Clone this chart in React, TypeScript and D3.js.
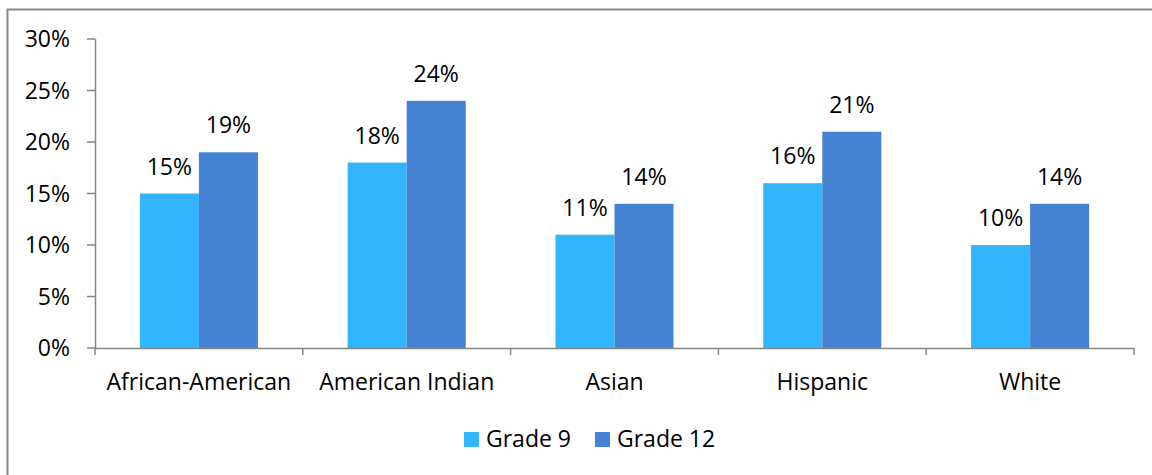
import React from "react";
import * as d3 from "d3";

const categories = ["African-American", "American Indian", "Asian", "Hispanic", "White"];
const seriesNames = ["Grade 9", "Grade 12"];
const grade9 = [15, 18, 11, 16, 10];
const grade12 = [19, 24, 14, 21, 14];
const yTicks = [0, 5, 10, 15, 20, 25, 30];

const colors = ["#33B5FE", "#4683D3"];
const FONT = "'Open Sans', 'Liberation Sans', sans-serif";
const FS = 23;

export default function App() {
  const W = 1152, H = 475;
  const x0 = 95, x1 = 1134, yTop = 39, yBot = 348;
  const x = d3.scaleBand<string>().domain(categories).range([x0, x1]).paddingInner(0).paddingOuter(0);
  const y = d3.scaleLinear().domain([0, 30]).range([yBot, yTop]);
  const inner = d3.scaleBand<string>().domain(seriesNames).range([0, x.bandwidth()]).paddingOuter(0.76).paddingInner(0);
  const series = [grade9, grade12];
  const boundaries = d3.range(categories.length + 1).map(i => x0 + i * x.bandwidth());

  return (
    <svg width={W} height={H} style={{ position: "absolute", left: 0, top: 0, background: "#fff" }} fontFamily={FONT}>
      <rect x={7.5} y={9.5} width={1200} height={600} fill="none" stroke="#878787" strokeWidth={2} />
      {categories.map((c, i) => (
        <g key={c}>
          {series.map((s, j) => (
            <rect key={j} x={(x(c) ?? 0) + (inner(seriesNames[j]) ?? 0)} y={y(s[i])}
              width={inner.bandwidth()} height={yBot - y(s[i])} fill={colors[j]} />
          ))}
          {series.map((s, j) => (
            <text key={"l" + j} x={(x(c) ?? 0) + (inner(seriesNames[j]) ?? 0) + inner.bandwidth() / 2}
              y={y(s[i]) - 19} textAnchor="middle" fontSize={FS} fill="#000">{s[i]}%</text>
          ))}
        </g>
      ))}
      <line x1={x0 + 0.5} x2={x0 + 0.5} y1={yTop} y2={yBot} stroke="#868686" strokeWidth={1.5} />
      {yTicks.map(t => (
        <g key={t}>
          <line x1={87} x2={x0} y1={y(t)} y2={y(t)} stroke="#868686" strokeWidth={1.5} />
          <text x={70} y={y(t)} dy="0.36em" textAnchor="end" fontSize={FS} fill="#000">{t}%</text>
        </g>
      ))}
      <line x1={x0} x2={x1} y1={yBot + 0.5} y2={yBot + 0.5} stroke="#868686" strokeWidth={1.5} />
      {boundaries.map((b, i) => (
        <line key={i} x1={b} x2={b} y1={yBot} y2={yBot + 7} stroke="#868686" strokeWidth={1.5} />
      ))}
      {categories.map(c => (
        <text key={c} x={(x(c) ?? 0) + x.bandwidth() / 2} y={390} textAnchor="middle" fontSize={FS} fill="#000">{c}</text>
      ))}
      <rect x={464} y={432} width={15} height={15} fill={colors[0]} />
      <text x={486} y={447} fontSize={FS} fill="#000">{seriesNames[0]}</text>
      <rect x={595} y={432} width={15} height={15} fill={colors[1]} />
      <text x={617} y={447} fontSize={FS} fill="#000">{seriesNames[1]}</text>
    </svg>
  );
}
